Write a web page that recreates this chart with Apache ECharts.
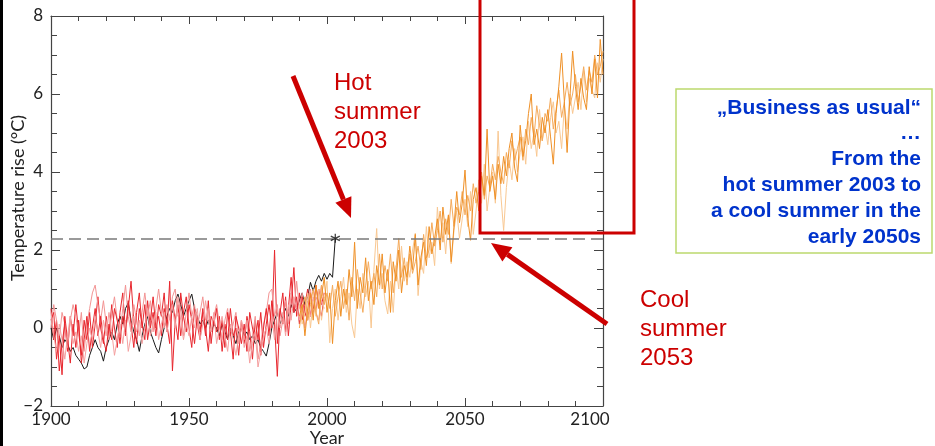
<!DOCTYPE html>
<html><head><meta charset="utf-8">
<script src="https://cdn.jsdelivr.net/npm/echarts@6/dist/echarts.min.js"></script>
<style>html,body{margin:0;padding:0;background:#fff}#c{width:935px;height:446px}</style>
</head><body><div id="c"></div>
<script>
// ---- data ----
const xTicks = [1900, 1950, 2000, 2050, 2100];
const yTicks = [-2, 0, 2, 4, 6, 8];

const OBS_START = 1900;
const observed = [
  0.0, -0.3, 0.0, -0.2, -0.5, -0.3, -0.4, -0.6, -0.5, -0.7,
  -0.8, -0.9, -1.05, -1.0, -0.7, -0.5, -0.3, -0.5, -0.6, -0.85,
  -0.5, -0.3, -0.1, -0.3, 0.1, 0.3, 0.1, 0.5, 0.65, 0.2,
  -0.1, -0.3, -0.6, -0.2, 0.1, 0.3, -0.1, -0.3, -0.5, -0.64,
  -0.3, 0.0, 0.3, 0.5, 0.4, 0.7, 0.87, 0.6, 0.3, 0.5,
  0.7, 0.87, 0.5, 0.3, 0.1, 0.2, 0.0, 0.2, -0.1, 0.1,
  0.0, -0.2, 0.1, -0.1, -0.3, 0.0, -0.2, -0.4, -0.1, 0.0,
  -0.2, -0.1, -0.3, -0.2, -0.4, -0.3, -0.5, -0.6, -0.72, -0.4,
  0.0, 0.2, 0.4, 0.1, 0.3, 0.5, 0.3, 0.6, 0.4, 0.5,
  0.7, 0.9, 0.6, 0.8, 1.17, 0.95, 1.2, 1.35, 1.2, 1.4,
  1.25, 1.4, 1.3, 2.3
];

const HIST_START = 1900;
const histRunA = [
  0.5, -0.3, 0.2, -1.1, -0.4, 0.1, -0.6, 0.3, -0.2, 0.6,
  -0.1, -0.7, 0.2, -0.3, 0.4, -0.5, 0.1, 0.8, 0.0, -0.4,
  0.3, -0.2, 0.6, 0.0, -0.5, 0.4, 0.9, -0.1, 0.5, 1.2,
  0.2, -0.4, 0.5, 0.1, -0.3, 0.7, 0.0, 0.4, -0.2, 0.6,
  0.3, 0.9, -0.1, 1.2, -1.1, 0.2, 0.6, -0.2, 0.4, 0.8,
  0.0, -0.5, 0.5, 0.1, -0.3, 0.4, -0.2, 0.7, -0.4, 0.2,
  -0.1, 0.3, -0.6, 0.1, -0.3, 0.5, -0.2, 0.0, -0.7, 0.2,
  -0.4, 0.3, -0.1, -0.8, 0.2, -0.3, 0.4, -0.5, 0.1, 0.6,
  0.0, 2.0, -0.4, 0.5, 0.1, 0.8, -0.2, 0.6, 1.55, 0.3,
  0.9, 0.2, 0.6, 1.0, 0.3, 0.7, 0.4, 1.0, 0.6, 0.9
];
const histRunB = [
  0.2, 0.4, -0.8, -0.2, -1.2, 0.3, -0.3, -0.9, 0.1, -0.5,
  0.2, -0.9, -0.3, 0.3, -0.6, 0.0, 0.5, -0.2, 0.3, -0.3,
  -0.6, 0.1, -0.3, 0.5, 0.2, -0.4, 0.3, -0.2, 0.7, 0.1,
  -0.5, 0.4, 0.9, 0.0, 0.6, -0.3, 0.2, 0.8, 0.0, 0.3,
  -0.2, 0.5, 0.1, -0.4, 0.7, 0.2, -0.3, 0.9, 0.3, -0.1,
  0.6, 0.2, -0.4, 0.3, -0.1, 0.5, 0.0, -0.6, 0.3, 0.1,
  0.5, -0.3, 0.2, -0.5, 0.4, -0.1, -0.8, 0.3, 0.0, -0.4,
  0.1, -0.6, 0.4, 0.0, -0.3, 0.2, -0.7, 0.0, 0.5, -0.2,
  0.7, 0.1, -1.24, 0.4, 0.9, -0.1, 0.5, 1.3, 0.4, 0.8,
  0.1, 0.8, 0.4, 0.2, 0.9, 0.5, 1.1, 0.6, 0.3, 0.8
];
const histRunC = [
  0.0, 0.6, 0.2, -0.3, 0.4, 0.1, -0.5, 0.2, 0.6, 0.3,
  -0.2, 0.4, -0.6, 0.1, 0.5, 0.9, 1.1, 0.6, 0.2, 0.7,
  0.1, -0.3, 0.4, 0.8, 0.2, -0.2, 0.5, 1.1, 0.3, -0.1,
  0.6, 0.2, -0.2, 0.4, 0.9, 0.3, 0.7, -0.1, 0.5, 1.0,
  0.4, 0.0, 0.6, 0.2, 0.8, 1.0, 0.3, 0.5, -0.2, 0.4,
  0.9, 0.3, 0.6, 0.0, 0.4, 0.8, 0.2, 0.5, -0.1, 0.3,
  0.6, 0.1, -0.3, 0.2, 0.5, -0.2, 0.1, 0.4, -0.4, 0.0,
  -0.3, 0.2, -0.6, -0.2, 0.3, -0.8, -0.4, 0.1, 0.4, 0.9,
  1.0, 0.3, 0.6, -0.2, 0.2, 0.7, 0.1, 0.9, 0.4, 1.2,
  0.5, 0.9, 0.3, 0.7, 1.0, 0.4, 0.8, 0.6, 1.1, 0.7
];
const histRunD = [
  0.4, -0.2, -0.6, 0.1, -0.3, -0.8, -0.2, 0.3, -0.4, -0.1,
  -0.6, -0.2, -0.9, -0.4, 0.0, -0.3, 0.3, -0.1, -0.5, 0.2,
  -0.2, 0.4, -0.1, -0.7, -0.3, 0.1, -0.4, 0.2, -0.6, -0.2,
  0.3, -0.1, 0.2, -0.4, 0.0, 0.5, -0.2, 0.1, 0.4, -0.3,
  0.1, 0.4, -0.1, 0.3, 0.6, 0.0, 0.8, 0.2, -0.3, 0.1,
  -0.2, 0.3, 0.0, 0.5, -0.3, 0.1, 0.7, 0.2, -0.1, 0.4,
  -0.4, 0.0, 0.3, -0.2, -0.6, 0.1, -0.3, -0.7, -0.2, 0.2,
  -0.5, -0.2, -0.9, -0.4, -0.1, -1.0, -0.6, -0.2, 0.0, -0.4,
  0.3, -0.3, 0.5, 0.0, 0.4, -0.2, 0.6, 0.2, 0.8, 0.5,
  0.2, 0.6, 0.0, 0.5, 0.3, 0.8, 0.4, 0.2, 0.7, 0.5
];

const FUT_START = 1990;
const futRunA = [
  0.3, 0.6, -0.2, 0.5, 0.9, 0.2, 1.1, 0.5, 0.8, 1.3,
  0.4, 0.9, -0.4, 0.7, 1.2, 0.3, 1.0, 0.6, 1.5, 0.8,
  2.2, 0.5, 1.3, 0.9, 1.8, 0.7, 1.2, 0.6, 1.6, 1.1,
  1.9, 0.9, 1.5, 0.4, 1.7, 1.2, 2.0, 0.9, 1.6, 1.3,
  2.1, 1.5, 2.4, 1.1, 1.8, 2.2, 1.6, 2.6, 1.9, 2.3,
  2.8, 2.0, 3.1, 2.4, 2.9, 1.7, 2.6, 3.5, 2.7, 3.2,
  4.05, 2.8, 2.25, 3.3, 3.6, 3.0, 3.9, 3.4, 5.1, 3.5,
  3.9, 3.3, 4.2, 3.7, 4.4, 3.9, 4.6, 5.0, 4.1, 3.75,
  5.2, 4.4, 4.8, 5.5, 6.0, 4.7, 5.1, 4.6, 5.4, 5.0,
  5.6, 4.9, 4.2, 5.5, 6.2, 7.05, 5.8, 4.5, 5.9, 7.1,
  6.2, 5.6, 6.4, 5.9, 5.6, 6.7, 6.0, 6.9, 5.9, 7.4,
  6.5
];
const futRunB = [
  0.6, 0.1, 0.4, 0.9, 0.0, 0.7, 0.3, 1.0, 0.2, 0.7,
  1.2, -0.38, 0.5, 1.0, 0.2, 0.8, 1.3, 0.4, 0.9, 0.1,
  -0.25, 1.0, 0.5, 1.4, 0.8, 1.2, 0.0, 1.5, 2.55, 1.0,
  1.4, 0.7, 0.36, 1.2, 0.4, 1.6, 1.0, 2.1, 1.2, 1.7,
  1.3, 2.0, 2.43, 0.83, 1.7, 1.4, 2.6, 1.8, 2.2, 1.6,
  3.1, 2.2, 2.7, 1.9, 2.9, 1.65, 2.5, 3.0, 2.3, 2.8,
  3.3, 2.6, 3.5, 2.4, 3.0, 3.8, 3.2, 4.2, 3.0, 3.6,
  4.0, 3.2, 5.05, 3.4, 2.5, 3.6, 4.3, 3.8, 4.6, 4.0,
  4.5, 4.9, 4.2, 5.3, 4.6, 5.0, 4.4, 5.6, 4.8, 5.2,
  4.7, 5.4, 5.8, 5.0, 5.3, 4.6, 5.7, 5.1, 6.0, 5.5,
  5.9, 6.3, 5.6, 6.6, 5.8, 6.4, 6.1, 5.9, 6.8, 6.3,
  6.9
];
const futRunC = [
  0.0, 0.5, 0.8, 0.2, 0.6, 1.0, 0.4, 0.1, 1.1, 0.6,
  0.9, 0.5, 1.1, 0.3, 0.8, 1.2, 0.5, 1.0, 0.2, 1.3,
  0.7, 1.5, 0.9, 0.4, 1.1, 1.7, 1.0, 1.4, 0.8, 1.9,
  1.0, 1.6, 1.2, 1.9, 0.9, 1.5, 2.3, 1.3, 1.8, 1.1,
  1.9, 1.4, 1.7, 2.1, 1.5, 2.4, 1.8, 2.0, 2.7, 2.1,
  2.5, 3.0, 2.2, 2.8, 2.4, 3.3, 2.6, 3.1, 2.9, 3.5,
  2.9, 3.4, 3.0, 3.7, 3.2, 3.5, 4.0, 3.3, 3.9, 3.6,
  4.2, 3.8, 4.4, 4.0, 3.7, 4.5, 4.1, 4.8, 4.3, 4.6,
  4.9, 4.3, 5.1, 4.7, 5.4, 4.9, 5.7, 5.2, 4.8, 5.5,
  5.3, 5.9, 5.1, 5.6, 6.1, 5.4, 5.8, 6.3, 5.7, 6.0,
  6.5, 5.8, 6.2, 6.7, 6.1, 6.6, 6.3, 7.0, 6.5, 6.7,
  7.1
];

const hotSummerYear = 2003;
const hotSummerLevel = 2.3;

// ---- chart ----
const pairs = (start, arr) => arr.map((v, i) => [start + i, v]);
const FONT = 'Lato, "Open Sans", sans-serif';
const ANN = '"Liberation Sans", Arial, sans-serif';

const axisCommonY = {
  type: 'value', min: yTicks[0], max: yTicks[yTicks.length - 1], interval: 2,
  axisLine: { show: true, onZero: false, lineStyle: { color: '#444', width: 1.2 } },
  axisTick: { show: true, inside: true, length: 9, lineStyle: { color: '#444' } },
  minorTick: { show: true, splitNumber: 4, length: 6, lineStyle: { color: '#444' } },
  splitLine: { show: false }
};
const axisCommonX = {
  type: 'value', min: xTicks[0], max: xTicks[xTicks.length - 1], interval: 50,
  axisLine: { show: true, onZero: false, lineStyle: { color: '#444', width: 1.2 } },
  axisTick: { show: true, inside: true, length: 8, lineStyle: { color: '#444' } },
  minorTick: { show: true, splitNumber: 5, length: 5, lineStyle: { color: '#444' } },
  splitLine: { show: false }
};

const lineS = (name, start, arr, color, z) => ({
  name, type: 'line', data: pairs(start, arr), symbol: 'none', z,
  lineStyle: { color, width: 1 }, silent: true
});

const chart = echarts.init(document.getElementById('c'), null, { renderer: 'canvas' });
chart.setOption({
  animation: false,
  backgroundColor: '#fff',
  grid: { left: 51, right: 332, top: 16, bottom: 40, outerBoundsMode: 'none' },
  xAxis: [
    Object.assign({}, axisCommonX, {
      position: 'bottom',
      name: 'Year', nameLocation: 'middle', nameGap: 23, nameMoveOverlap: false,
      nameTextStyle: { fontFamily: FONT, fontSize: 18, color: '#222' },
      axisLabel: {
        margin: 5, fontFamily: FONT, fontSize: 17, color: '#222',
        formatter: v => v === 2100 ? '{r|' + v + '}' : String(v),
        rich: { r: { fontFamily: FONT, fontSize: 17, color: '#222', padding: [0, 26, 0, 0] } }
      }
    }),
    Object.assign({}, axisCommonX, { position: 'top', axisLabel: { show: false } })
  ],
  yAxis: [
    Object.assign({}, axisCommonY, {
      position: 'left',
      name: 'Temperature rise (°C)', nameLocation: 'middle', nameGap: 24, nameRotate: 90,
      nameMoveOverlap: false,
      nameTextStyle: { fontFamily: FONT, fontSize: 18, color: '#222', padding: [0, 0, 0, 26] },
      axisLabel: {
        margin: 8, fontFamily: FONT, fontSize: 17, color: '#222',
        formatter: v => String(v).replace('-', '\u2212')
      }
    }),
    Object.assign({}, axisCommonY, { position: 'right', axisLabel: { show: false } })
  ],
  series: [
    Object.assign(lineS('observed', OBS_START, observed, '#1a1a1a', 2), {
      markLine: {
        silent: true, symbol: 'none', label: { show: false },
        lineStyle: { color: '#7a7a7a', type: [12, 6], width: 1.5 },
        data: [{ yAxis: hotSummerLevel }]
      }
    }),
    lineS('hist A', HIST_START, histRunA, '#e8262d', 3),
    lineS('hist C', HIST_START, histRunC, '#f39494', 3),
    lineS('hist B', HIST_START, histRunB, '#e8262d', 3),
    lineS('hist D', HIST_START, histRunD, '#f5a0a0', 3),
    lineS('fut B', FUT_START, futRunB, '#f9c892', 4),
    lineS('fut C', FUT_START, futRunC, '#f5aa5a', 4),
    lineS('fut A', FUT_START, futRunA, '#ef9026', 4),
    {
      type: 'scatter', z: 6, silent: true,
      data: [[hotSummerYear, hotSummerLevel]],
      symbol: 'path://M5 0 L5 10 M0.7 2.5 L9.3 7.5 M0.7 7.5 L9.3 2.5',
      symbolSize: 9,
      itemStyle: { color: 'none', borderColor: '#111', borderWidth: 1.3 }
    }
  ],
  graphic: [
    { type: 'rect', shape: { x: 0, y: 0, width: 3, height: 446 }, style: { fill: '#000' }, z: 100 },
    // red highlight box
    { type: 'rect', shape: { x: 480, y: -10, width: 154, height: 243 },
      style: { fill: 'none', stroke: '#cc0000', lineWidth: 3 }, z: 100 },
    // hot arrow
    { type: 'polyline', shape: { points: [[293, 76], [343.4, 199.5]] },
      style: { stroke: '#cc0000', lineWidth: 5, fill: 'none' }, z: 100 },
    { type: 'polygon', shape: { points: [[351, 218], [335.4, 202.8], [351.4, 196.2]] },
      style: { fill: '#cc0000' }, z: 100 },
    // cool arrow
    { type: 'polyline', shape: { points: [[607, 324], [507.4, 254.4]] },
      style: { stroke: '#cc0000', lineWidth: 5, fill: 'none' }, z: 100 },
    { type: 'polygon', shape: { points: [[491, 243], [512.4, 247.2], [502.4, 261.6]] },
      style: { fill: '#cc0000' }, z: 100 },
    { type: 'text', x: 334, y: 69, z: 100,
      style: { text: 'Hot\nsummer\n2003', fill: '#cc0000', font: '24px ' + ANN, lineHeight: 29, align: 'left', verticalAlign: 'top' } },
    { type: 'text', x: 640, y: 286, z: 100,
      style: { text: 'Cool\nsummer\n2053', fill: '#cc0000', font: '24px ' + ANN, lineHeight: 29, align: 'left', verticalAlign: 'top' } },
    // green box
    { type: 'rect', shape: { x: 676, y: 89, width: 256, height: 164 },
      style: { fill: '#fff', stroke: '#bcd96e', lineWidth: 1.5 }, z: 100 },
    { type: 'text', x: 921, y: 95, z: 101,
      style: { text: '\u201EBusiness as usual\u201C\n\u2026\nFrom the\nhot summer 2003 to\na cool summer in the\nearly 2050s',
        fill: '#0033cc', font: 'bold 21px ' + ANN, lineHeight: 25.8, align: 'right', verticalAlign: 'top' } }
  ]
});
</script></body></html>
